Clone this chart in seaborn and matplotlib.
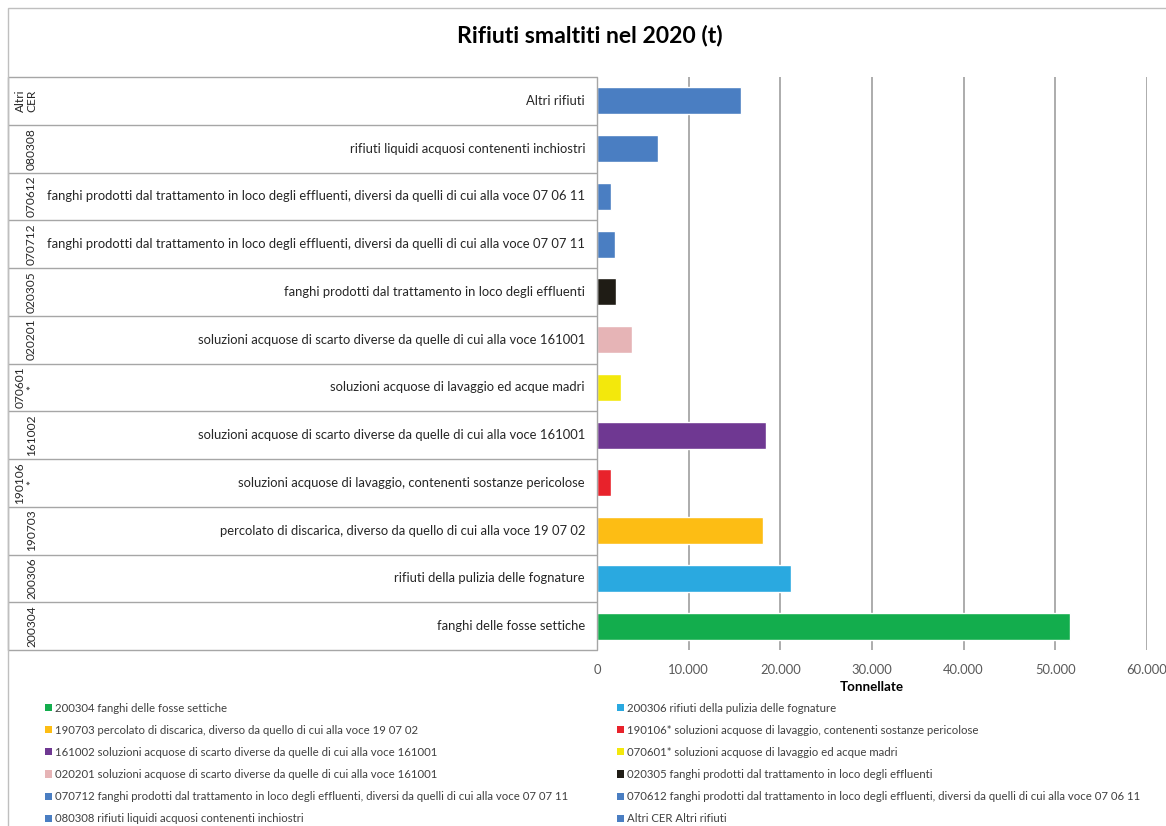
import matplotlib
matplotlib.use("Agg")
import matplotlib.pyplot as plt
from matplotlib.patches import Rectangle, Patch
from matplotlib.ticker import FuncFormatter, MultipleLocator
import pandas as pd
import seaborn as sns

# ---- data -----------------------------------------------------------------
codes = ["Altri CER", "080308", "070612", "070712", "020305", "020201",
         "070601*", "161002", "190106*", "190703", "200306", "200304"]
code_labels = ["Altri\nCER", "080308", "070612", "070712", "020305", "020201",
               "070601\n*", "161002", "190106\n*", "190703", "200306", "200304"]
descriptions = [
    "Altri rifiuti",
    "rifiuti liquidi acquosi contenenti inchiostri",
    "fanghi prodotti dal trattamento in loco degli effluenti, diversi da quelli di cui alla voce 07 06 11",
    "fanghi prodotti dal trattamento in loco degli effluenti, diversi da quelli di cui alla voce 07 07 11",
    "fanghi prodotti dal trattamento in loco degli effluenti",
    "soluzioni acquose di scarto diverse da quelle di cui alla voce 161001",
    "soluzioni acquose di lavaggio ed acque madri",
    "soluzioni acquose di scarto diverse da quelle di cui alla voce 161001",
    "soluzioni acquose di lavaggio, contenenti sostanze pericolose",
    "percolato di discarica, diverso da quello di cui alla voce 19 07 02",
    "rifiuti della pulizia delle fognature",
    "fanghi delle fosse settiche",
]
tonnes = [15700, 6600, 1550, 1920, 2040, 3840, 2670, 18420, 1570, 18100, 21160, 51570]
colors = ["#4a7ec2", "#4a7ec2", "#4a7ec2", "#4a7ec2", "#1f1c15", "#e6b4b6",
          "#f3e80c", "#6f3892", "#e8222b", "#fdbd14", "#2aa9e0", "#13ad4d"]
x_ticks = [0, 10000, 20000, 30000, 40000, 50000, 60000]

# legend reads row by row, bottom category first
legend_order = ["200304", "200306", "190703", "190106*", "161002", "070601*",
                "020201", "020305", "070712", "070612", "080308", "Altri CER"]
full_labels = {
    "200304": "200304 fanghi delle fosse settiche",
    "200306": "200306 rifiuti della pulizia delle fognature",
    "190703": "190703 percolato di discarica, diverso da quello di cui alla voce 19 07 02",
    "190106*": "190106* soluzioni acquose di lavaggio, contenenti sostanze pericolose",
    "161002": "161002 soluzioni acquose di scarto diverse da quelle di cui alla voce 161001",
    "070601*": "070601* soluzioni acquose di lavaggio ed acque madri",
    "020201": "020201 soluzioni acquose di scarto diverse da quelle di cui alla voce 161001",
    "020305": "020305 fanghi prodotti dal trattamento in loco degli effluenti",
    "070712": "070712 fanghi prodotti dal trattamento in loco degli effluenti, diversi da quelli di cui alla voce 07 07 11",
    "070612": "070612 fanghi prodotti dal trattamento in loco degli effluenti, diversi da quelli di cui alla voce 07 06 11",
    "080308": "080308 rifiuti liquidi acquosi contenenti inchiostri",
    "Altri CER": "Altri CER Altri rifiuti",
}

df = pd.DataFrame({"voce": codes, "t": tonnes})
palette = dict(zip(codes, colors))

# ---- figure ----------------------------------------------------------------
W, H = 1166, 826
sns.set_style("white")
plt.rcParams["font.family"] = ["Lato", "DejaVu Sans"]
fig = plt.figure(figsize=(W / 100, H / 100), dpi=100)


def fx(px):
    return px / W


def fy(py):
    return 1 - py / H


# outer chart frame
fig.patches.append(Rectangle((fx(8), fy(830)), fx(1180), fy(8) - fy(830),
                             transform=fig.transFigure, fill=False,
                             edgecolor="#bfbfbf", lw=1.0))

fig.text(fx(590), fy(35), "Rifiuti smaltiti nel 2020 (t)", ha="center",
         va="center", fontsize=16.6, fontweight="bold", color="#000000")

plot_left, plot_right, plot_top, plot_bottom = 597, 1147, 77, 650
ax = fig.add_axes([fx(plot_left), fy(plot_bottom), fx(plot_right - plot_left),
                   fy(plot_top) - fy(plot_bottom)])

sns.barplot(data=df, y="voce", x="t", hue="voce", palette=palette,
            order=codes, hue_order=codes, legend=False, width=0.57,
            saturation=1, orient="h", ax=ax)

ax.set_xlim(x_ticks[0], x_ticks[-1])
ax.set_ylim(len(codes) - 0.5, -0.5)
ax.xaxis.set_major_locator(MultipleLocator(x_ticks[1]))
ax.xaxis.set_major_formatter(
    FuncFormatter(lambda v, _: f"{int(v):,}".replace(",", ".")))
ax.set_yticks([])
ax.set_ylabel("")
ax.set_xlabel("Tonnellate", fontsize=9.6, fontweight="bold", color="#000000",
              labelpad=4)
for s in ax.spines.values():
    s.set_visible(False)
ax.grid(axis="x", color="#a6a6a6", lw=1.3)
ax.grid(axis="y", visible=False)
ax.set_axisbelow(True)
ax.tick_params(axis="x", length=5, width=1.3, color="#a6a6a6",
               labelsize=9.4, labelcolor="#595959", pad=5)

# category table on the left
tab = fig.add_axes([fx(8), fy(plot_bottom), fx(plot_left - 8),
                    fy(plot_top) - fy(plot_bottom)])
tab_w = plot_left - 8
tab.set_xlim(0, tab_w)
tab.set_ylim(len(codes) - 0.5, -0.5)
tab.axis("off")
line_c = "#a6a6a6"
for k in range(len(codes) + 1):
    tab.plot([0, tab_w], [k - 0.5, k - 0.5], color=line_c, lw=1.0,
             solid_capstyle="butt", clip_on=False)
tab.plot([tab_w, tab_w], [-0.5, len(codes) - 0.5], color=line_c, lw=1.0,
         clip_on=False)
tab.plot([0, 0], [-0.5, len(codes) - 0.5], color=line_c, lw=1.0,
         clip_on=False)

for i, (lab, desc) in enumerate(zip(code_labels, descriptions)):
    tab.text(29, i, lab, rotation=90, ha="right", va="center",
             multialignment="center", fontsize=8.6, color="#262626",
             linespacing=1.05)
    tab.text(577, i, desc, ha="right", va="center", fontsize=9.35,
             color="#262626")

# legend: two columns, filled row by row
for col, x0 in enumerate([45, 617]):
    keys = legend_order[col::2]
    handles = [Patch(facecolor=palette[k], edgecolor="none") for k in keys]
    labels = [full_labels[k] for k in keys]
    fig.legend(handles, labels, loc="upper left",
               bbox_to_anchor=(fx(x0), fy(702.5)), frameon=False,
               fontsize=8.2, labelcolor="#404040", handlelength=0.6,
               handleheight=0.6, handletextpad=0.25, labelspacing=0.98,
               borderpad=0, borderaxespad=0)

fig.savefig("out.png", dpi=100)
